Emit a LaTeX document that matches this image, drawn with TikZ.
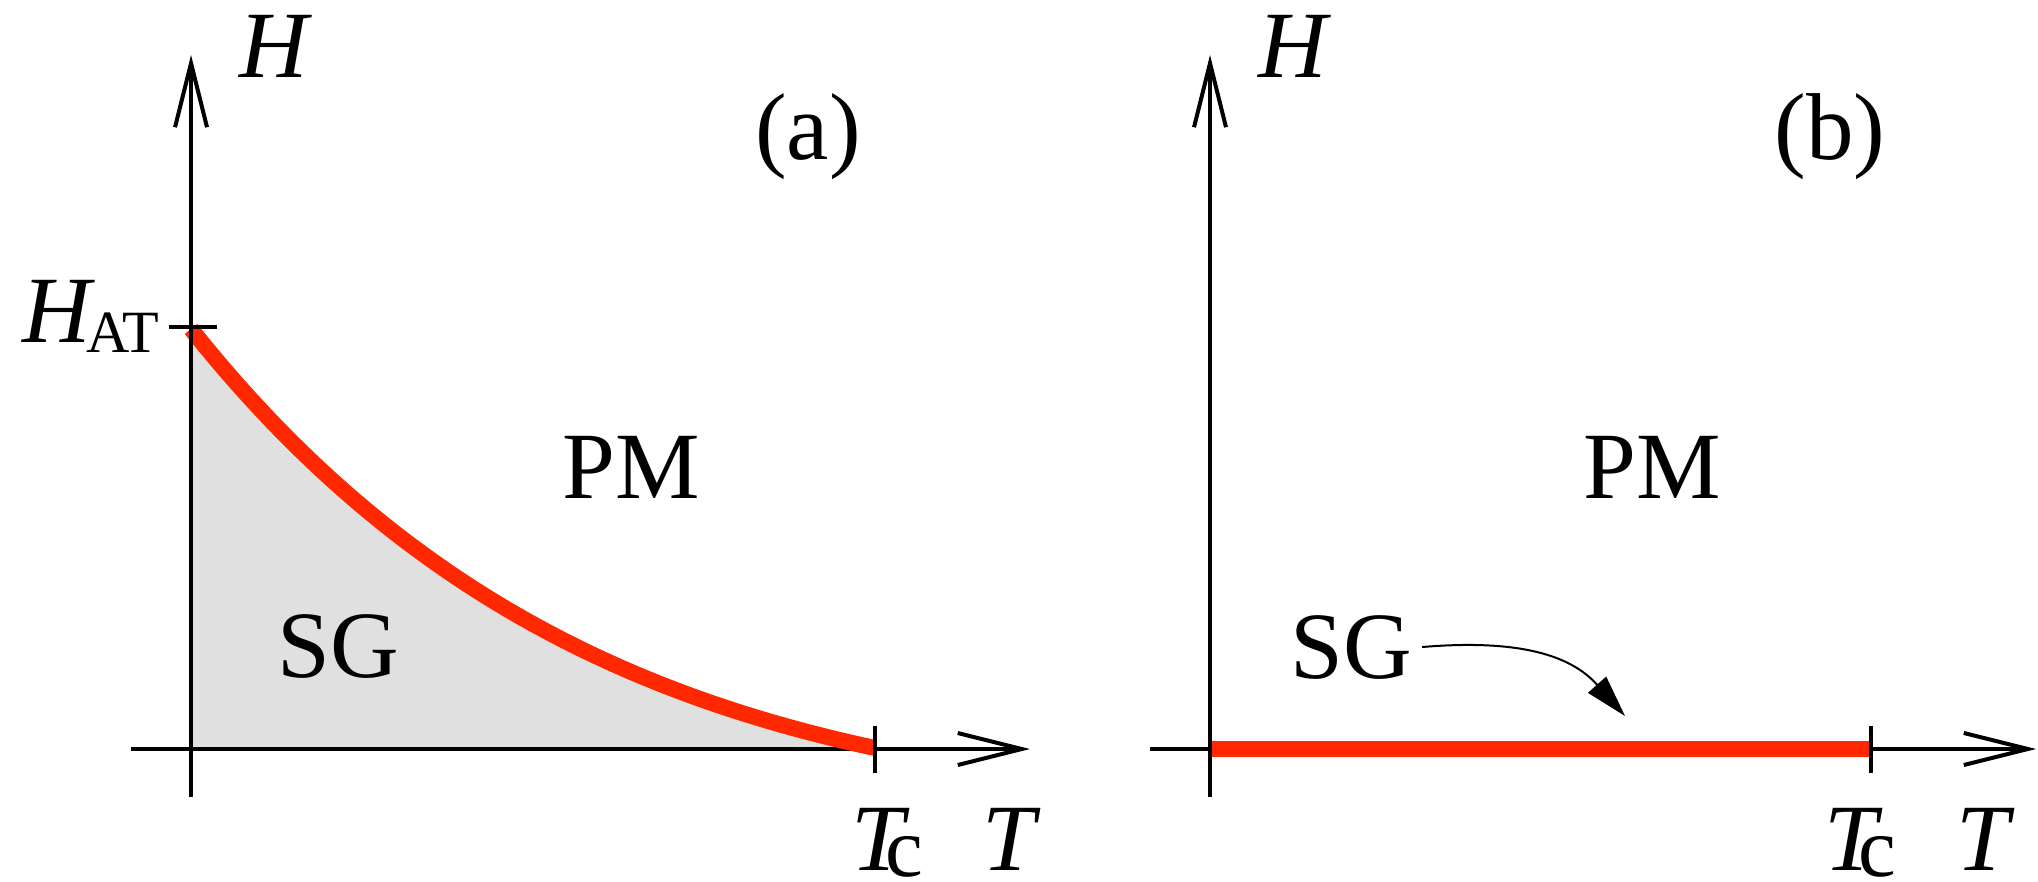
\documentclass[tikz,border=0pt]{standalone}
\usepackage{fontspec}
\setmainfont{Liberation Serif}
\usetikzlibrary{arrows.meta}
\definecolor{curvered}{RGB}{255,40,0}
\definecolor{sgfill}{RGB}{224,224,224}
\begin{document}
\begin{tikzpicture}[x=0.5pt,y=-0.5pt,
  axisline/.style={line width=2pt,-{Straight Barb[length=32pt,width=16pt]}},
  tickline/.style={line width=2pt},
  phase/.style={line width=8pt,draw=curvered},
  lbl/.style={inner sep=0pt,font=\fontsize{47.5}{50}\selectfont},
  pointer/.style={line width=1pt,-{Triangle[length=21pt,width=12pt]}}
]
\useasboundingbox (0,0) rectangle (2038,882);
% ---------- panel (a) ----------
\coordinate (aO) at (191,749);
\coordinate (aHtop) at (191,55);
\coordinate (aHbot) at (191,797);
\coordinate (aTleft) at (131,749);
\coordinate (aTright) at (1030,749);
\coordinate (aHAT) at (191,329);
\coordinate (aTc) at (875,749);
\fill[sgfill] plot[domain=0:1,samples=80] ({191+684*\x},{749-420*(1-\x)*exp(-1.05*\x)}) -- (aO) -- cycle;
\draw[axisline] (aTleft) -- (aTright);
\draw[phase] plot[domain=0:1,samples=80] ({191+684*\x},{748-419*(1-\x)*exp(-1.05*\x)});
\draw[axisline] (aHbot) -- (aHtop);
\draw[tickline] ([xshift=-11pt]aHAT |- 0,327) -- ([xshift=13pt]aHAT |- 0,327);
\draw[tickline] ([yshift=11.5pt]aTc) -- ([yshift=-12pt]aTc);
\node[lbl,anchor=base] (aH) at (274,78) {\itshape H};
\node[lbl,anchor=base west] (aHATl) at (22,342) {{\itshape H}\kern-2.5pt\raisebox{-5.5pt}{\fontsize{30}{30}\selectfont AT}};
\node[lbl,anchor=base west] (aTcl) at (851,870) {{\itshape T}\kern-9.5pt\raisebox{-3pt}{\fontsize{42.5}{44}\selectfont c}};
\node[lbl,anchor=base west] (aT) at (982,870) {\itshape T};
\node[lbl,anchor=base] (alab) at (808,160) {(a)};
\node[lbl,anchor=base] (aPM) at (631,498) {PM};
\node[lbl,anchor=base] (aSG) at (338,677) {SG};
% ---------- panel (b) ----------
\coordinate (bO) at (1210,749);
\coordinate (bHtop) at (1210,55);
\coordinate (bHbot) at (1210,797);
\coordinate (bTleft) at (1150,749);
\coordinate (bTright) at (2036,749);
\coordinate (bTc) at (1871,749);
\coordinate (btip) at (1625,716);
\draw[axisline] (bTleft) -- (bTright);
\draw[phase] (bO) -- (bTc);
\draw[axisline] (bHbot) -- (bHtop);
\draw[tickline] ([yshift=11.5pt]bTc) -- ([yshift=-12pt]bTc);
\node[lbl,anchor=base] (bH) at (1293,78) {\itshape H};
\node[lbl,anchor=base west] (bTcl) at (1824,870) {{\itshape T}\kern-9.5pt\raisebox{-3pt}{\fontsize{42.5}{44}\selectfont c}};
\node[lbl,anchor=base west] (bT) at (1956,870) {\itshape T};
\node[lbl,anchor=base] (blab) at (1830,160) {(b)};
\node[lbl,anchor=base] (bPM) at (1652,498) {PM};
\node[lbl,anchor=base] (bSG) at (1351,678) {SG};
\draw[pointer] ([xshift=5pt]bSG.east) .. controls (1530,638) and (1575,660) .. (btip);
\end{tikzpicture}
\end{document}
